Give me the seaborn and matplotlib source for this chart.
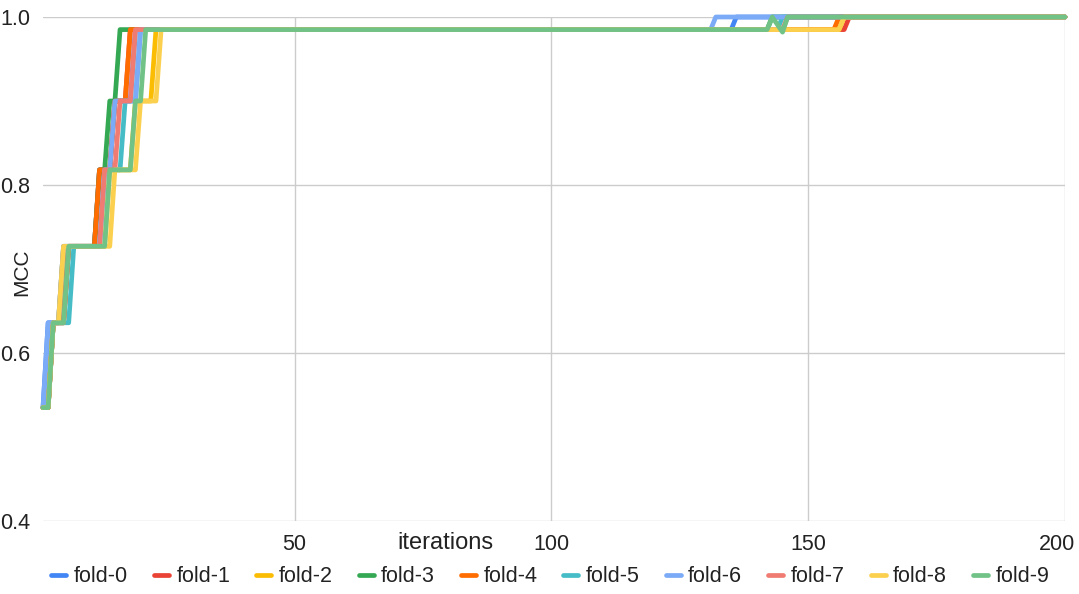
import numpy as np
import pandas as pd
import seaborn as sns
import matplotlib.pyplot as plt
import matplotlib.transforms as mtransforms
from matplotlib.lines import Line2D

# valores
folds = ['fold-0', 'fold-1', 'fold-2', 'fold-3', 'fold-4',
         'fold-5', 'fold-6', 'fold-7', 'fold-8', 'fold-9']
colores = ['#4285F4', '#EA4335', '#FBBC04', '#34A853', '#FF6D01',
           '#46BDC6', '#7BAAF7', '#F07B72', '#FCD04F', '#71C287']

iteraciones = np.arange(1, 201)
niveles = [0.535, 0.636, 0.727, 0.818, 0.9, 0.985, 1.0]

# iteracion en la que cada fold llega a cada nivel (niveles[1:])
llegada = {
    'fold-0': [2, 5, 12, 15, 19, 136],
    'fold-1': [3, 6, 12, 15, 18, 158],
    'fold-2': [3, 5, 14, 19, 23, 157],
    'fold-3': [3, 6, 12, 14, 16, 143],
    'fold-4': [3, 6, 12, 15, 18, 156],
    'fold-5': [3, 7, 13, 17, 20, 145],
    'fold-6': [2, 5, 13, 15, 20, 132],
    'fold-7': [3, 6, 13, 16, 19, 146],
    'fold-8': [3, 5, 15, 20, 24, 157],
    'fold-9': [3, 6, 14, 19, 21, 143],
}
# pequena caida del fold-9 cerca de la iteracion 145
caida_fold9 = {144: 0.991, 145: 0.982}

filas = []
for f in folds:
    idx = np.searchsorted(llegada[f], iteraciones, side='right')
    valores = np.array(niveles)[idx]
    if f == 'fold-9':
        for it, v in caida_fold9.items():
            valores[it - 1] = v
    filas.append(pd.DataFrame({'iterations': iteraciones, 'MCC': valores, 'fold': f}))
df = pd.concat(filas, ignore_index=True)

sns.set_style("white")
plt.rcParams['font.family'] = ['Liberation Sans', 'DejaVu Sans']

fig = plt.figure(figsize=(10.79, 5.94), dpi=100)
ax = fig.add_axes([43 / 1079, 73 / 594, 1022 / 1079, 504 / 594])

sns.lineplot(data=df, x='iterations', y='MCC', hue='fold', hue_order=folds,
             palette=colores, linewidth=3.4, legend=False, ax=ax,
             clip_on=False, solid_joinstyle='round')

ax.set_xlim(1, 200)
ax.set_ylim(0.4, 1.0)
ax.set_xticks([50, 100, 150, 200])
ax.set_yticks([0.4, 0.6, 0.8, 1.0])
ax.set_yticklabels(['0.4', '0.6', '0.8', '1.0'])
ax.grid(True, color='#cccccc', linewidth=1)
ax.set_axisbelow(True)
for s in ax.spines.values():
    s.set_visible(False)
ax.tick_params(axis='both', length=0, labelsize=15.5, colors='#222222')
ax.tick_params(axis='x', pad=9)
ax.tick_params(axis='y', pad=9)
ax.set_xlabel('')
ax.set_ylabel('')

# la etiqueta 200 se corre un poco a la izquierda para que quepa
ultima = ax.get_xticklabels()[-1]
ultima.set_transform(ultima.get_transform() +
                     mtransforms.ScaledTranslation(-8 / 100, 0, fig.dpi_scale_trans))

fig.text(445 / 1079, (594 - 543) / 594, 'iterations', fontsize=17,
         ha='center', va='center', color='#222222')
fig.text(22 / 1079, (594 - 272) / 594, 'MCC', fontsize=15, rotation=90,
         ha='center', va='center', color='#222222')

handles = [Line2D([0], [0], color=c, linewidth=3.4, solid_capstyle='round') for c in colores]
fig.legend(handles, folds, loc='center', bbox_to_anchor=(0.51, 17 / 594), ncol=10,
           frameon=False, fontsize=15.5, handlelength=0.7, handletextpad=0.35,
           columnspacing=1.2, labelcolor='#222222')

fig.savefig('out.png', dpi=100)
